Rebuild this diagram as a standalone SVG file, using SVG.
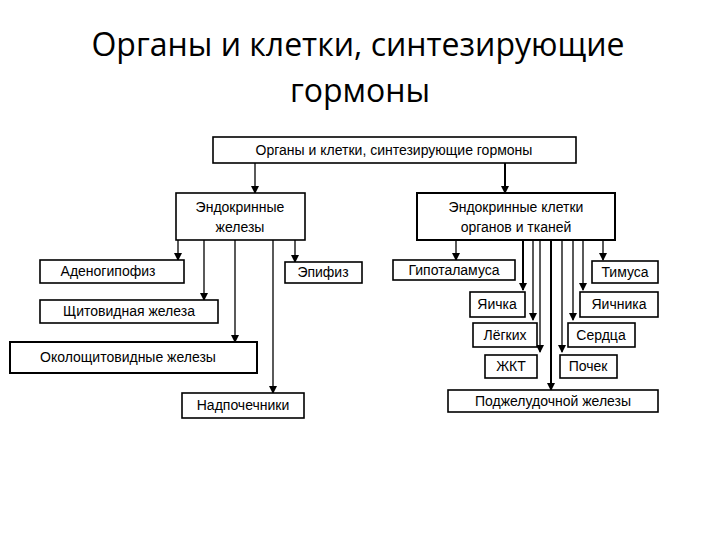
<svg xmlns="http://www.w3.org/2000/svg" width="720" height="540" viewBox="0 0 720 540">
<style>
.b{fill:#fff;stroke:#000;stroke-width:1.6}
.t{font-family:"Liberation Sans",Arial,sans-serif;font-size:14px;fill:#000;text-anchor:middle}
.h{font-family:"Open Sans","Liberation Sans",sans-serif;font-size:32px;fill:#000;text-anchor:middle}
.c line{stroke:#000;stroke-width:1.3;marker-end:url(#a)}
</style>
<defs><marker id="a" markerWidth="8" markerHeight="8" refX="7" refY="4" orient="auto" markerUnits="userSpaceOnUse"><path d="M0,0L8,4L0,8z"/></marker></defs>
<rect width="720" height="540" fill="#fff"/>
<text class="h" x="358" y="56">Органы и клетки, синтезирующие</text>
<text class="h" x="360" y="102">гормоны</text>
<g class="c">
<line x1="255" y1="163" x2="255" y2="193"/>
<line x1="505" y1="163" x2="505" y2="193" style="stroke-width:2"/>
<line x1="178" y1="240" x2="178" y2="260"/>
<line x1="204" y1="240" x2="204" y2="300"/>
<line x1="235" y1="240" x2="235" y2="342"/>
<line x1="273" y1="240" x2="273" y2="393"/>
<line x1="295" y1="240" x2="295" y2="262"/>
<line x1="456" y1="240" x2="456" y2="260"/>
<line x1="523" y1="240" x2="523" y2="290" style="stroke-width:2"/>
<line x1="533" y1="240" x2="533" y2="320"/>
<line x1="540" y1="240" x2="540" y2="352"/>
<line x1="551" y1="240" x2="551" y2="390" style="stroke-width:2"/>
<line x1="562" y1="240" x2="562" y2="352"/>
<line x1="573" y1="240" x2="573" y2="320"/>
<line x1="583" y1="240" x2="583" y2="290"/>
<line x1="603" y1="240" x2="603" y2="260"/>
</g>
<g id="root"><rect class="b" x="213" y="137" width="363" height="26"/><text class="t" x="394" y="155">Органы и клетки, синтезирующие гормоны</text></g>
<g id="endo"><rect class="b" x="176" y="193" width="129" height="47"/><text class="t" x="240" y="212">Эндокринные</text><text class="t" x="240" y="232">железы</text></g>
<g id="cells"><rect class="b" x="417" y="193" width="198" height="47" style="stroke-width:2"/><text class="t" x="516" y="212">Эндокринные клетки</text><text class="t" x="516" y="232">органов и тканей</text></g>
<g id="adeno"><rect class="b" x="40" y="260" width="144" height="23"/><text class="t" x="108" y="276">Аденогипофиз</text></g>
<g id="epi"><rect class="b" x="285" y="262" width="77" height="21"/><text class="t" x="323" y="277">Эпифиз</text></g>
<g id="shch"><rect class="b" x="40" y="300" width="178" height="23"/><text class="t" x="129" y="316">Щитовидная железа</text></g>
<g id="okolo"><rect class="b" x="10" y="342" width="247" height="31" style="stroke-width:2"/><text class="t" x="128" y="362">Околощитовидные железы</text></g>
<g id="nadp"><rect class="b" x="182" y="393" width="122" height="25"/><text class="t" x="243" y="410">Надпочечники</text></g>
<g id="gipo"><rect class="b" x="393" y="260" width="122" height="20"/><text class="t" x="454" y="275">Гипоталамуса</text></g>
<g id="timus"><rect class="b" x="592" y="261" width="66" height="22"/><text class="t" x="625" y="277">Тимуса</text></g>
<g id="yaichka"><rect class="b" x="470" y="292" width="55" height="25"/><text class="t" x="497" y="309">Яичка</text></g>
<g id="yaichnika"><rect class="b" x="580" y="292" width="78" height="25"/><text class="t" x="619" y="309">Яичника</text></g>
<g id="legkih"><rect class="b" x="473" y="323" width="64" height="24"/><text class="t" x="505" y="340">Лёгких</text></g>
<g id="serdtsa"><rect class="b" x="568" y="323" width="67" height="24"/><text class="t" x="601" y="340">Сердца</text></g>
<g id="zhkt"><rect class="b" x="485" y="355" width="52" height="23"/><text class="t" x="511" y="371">ЖКТ</text></g>
<g id="pochek"><rect class="b" x="560" y="355" width="57" height="23"/><text class="t" x="588" y="371">Почек</text></g>
<g id="podzh"><rect class="b" x="448" y="390" width="210" height="22"/><text class="t" x="553" y="406">Поджелудочной железы</text></g>
</svg>
